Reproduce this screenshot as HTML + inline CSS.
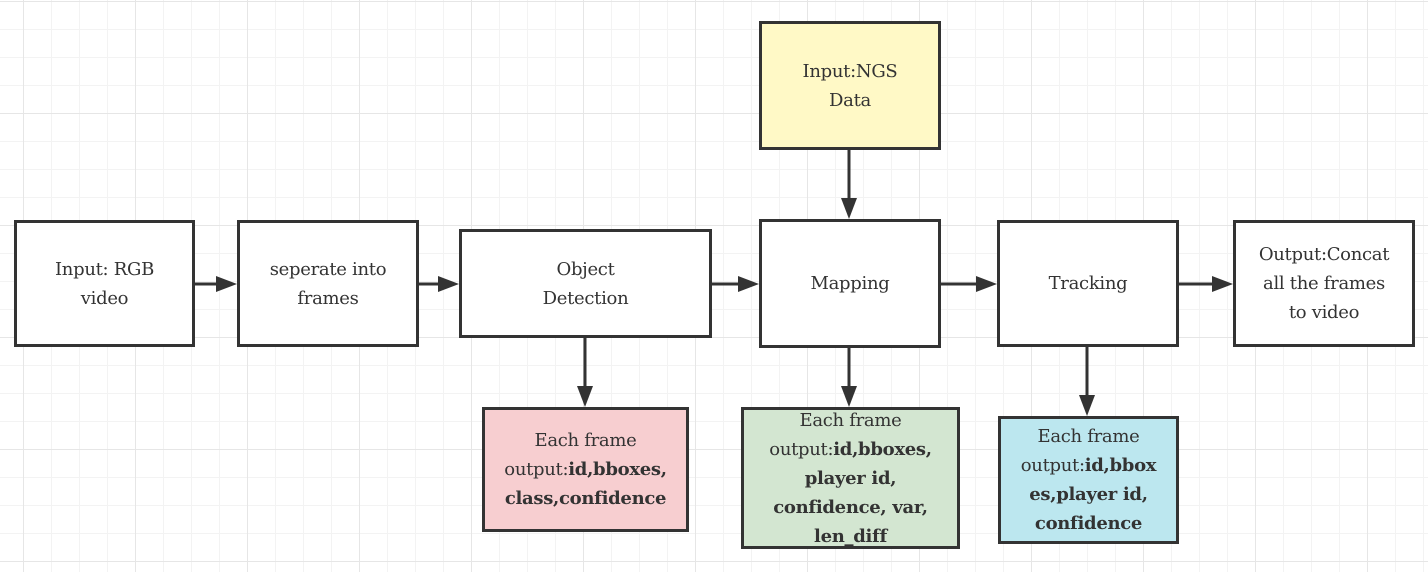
<!DOCTYPE html>
<html><head><style>
body{margin:0;width:1428px;height:572px;overflow:hidden;background:#fff;
background-image:
linear-gradient(#e6e6e6 1px,transparent 1px),linear-gradient(90deg,#e6e6e6 1px,transparent 1px),
linear-gradient(#f3f3f3 1px,transparent 1px),linear-gradient(90deg,#f3f3f3 1px,transparent 1px);
background-size:112px 112px,112px 112px,28px 28px,28px 28px;
background-position:0 1px,23px 0,0 1px,23px 0;
color:#333;position:relative}
.b{position:absolute;box-sizing:border-box;border:3px solid #333;background:#fff;display:flex;align-items:center;justify-content:center;text-align:center;font-size:18px;line-height:29px;font-family:"DejaVu Serif",serif;white-space:nowrap;letter-spacing:-0.3px}
svg{position:absolute;left:0;top:0}
</style></head><body>
<div class="b" style="left:14px;top:220px;width:181px;height:127px"><div>Input: RGB<br>video</div></div>
<div class="b" style="left:237px;top:220px;width:182px;height:127px"><div>seperate into<br>frames</div></div>
<div class="b" style="left:459px;top:229px;width:253px;height:109px"><div>Object<br>Detection</div></div>
<div class="b" style="left:759px;top:219px;width:182px;height:129px"><div>Mapping</div></div>
<div class="b" style="left:997px;top:220px;width:182px;height:127px"><div>Tracking</div></div>
<div class="b" style="left:1233px;top:220px;width:182px;height:127px"><div>Output:Concat<br>all the frames<br>to video</div></div>
<div class="b" style="left:759px;top:21px;width:182px;height:129px;background:#fff9c6"><div>Input:NGS<br>Data</div></div>
<div class="b" style="left:482px;top:407px;width:207px;height:125px;background:#f7ced0"><div>Each frame<br>output:<b>id,bboxes,<br>class,confidence</b></div></div>
<div class="b" style="left:741px;top:407px;width:219px;height:142px;background:#d3e6d1"><div>Each frame<br>output:<b>id,bboxes,<br>player id,<br>confidence, var,<br>len_diff</b></div></div>
<div class="b" style="left:998px;top:416px;width:181px;height:128px;background:#bce7ef"><div>Each frame<br>output:<b>id,bbox<br>es,player id,<br>confidence</b></div></div>
<svg width="1428" height="572">
<g stroke="#333" stroke-width="3" fill="none">
<path d="M195 284H218"/><path d="M419 284H440"/><path d="M712 284H740"/><path d="M941 284H978"/><path d="M1179 284H1214"/>
<path d="M585 338V388"/><path d="M849 150V200"/><path d="M849 348V388"/><path d="M1087 347V397"/>
</g>
<g fill="#333">
<path d="M216 276L237 284L216 292z"/><path d="M438 276L459 284L438 292z"/><path d="M738 276L759 284L738 292z"/><path d="M976 276L997 284L976 292z"/><path d="M1212 276L1233 284L1212 292z"/>
<path d="M577 386L585 407L593 386z"/><path d="M841 198L849 219L857 198z"/><path d="M841 386L849 407L857 386z"/><path d="M1079 395L1087 416L1095 395z"/>
</g>
</svg>
</body></html>
